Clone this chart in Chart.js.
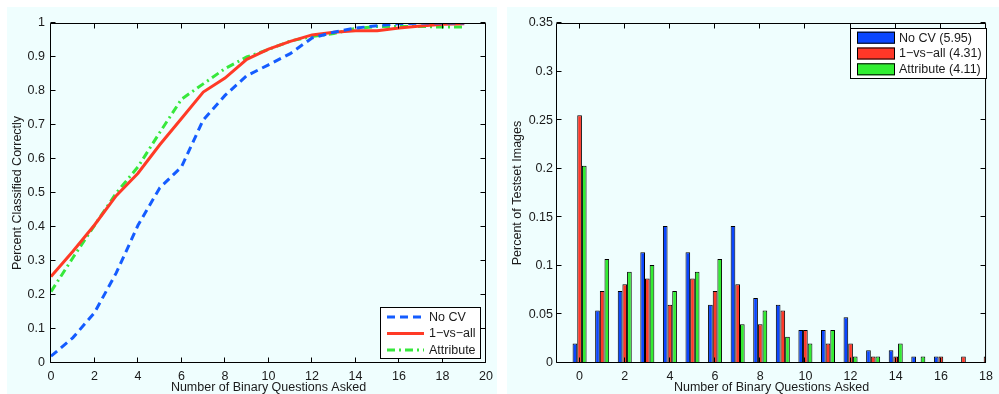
<!DOCTYPE html>
<html>
<head>
<meta charset="utf-8">
<script src="https://cdn.jsdelivr.net/npm/chart.js@4.4.1/dist/chart.umd.min.js"></script>
<style>
  html, body { margin: 0; padding: 0; background: #ffffff; }
  #wrap { position: relative; width: 999px; height: 394px; overflow: hidden; }
  canvas { position: absolute; top: 0; }
  #c1 { left: 0; }
  #c2 { left: 500px; }
</style>
</head>
<body>
<div id="wrap">
  <canvas id="c1" width="500" height="394"></canvas>
  <canvas id="c2" width="499" height="394"></canvas>
</div>
<script>
// ---------- data ----------
const questions = [0,1,2,3,4,5,6,7,8,9,10,11,12,13,14,15,16,17,18,19];
const noCV      = [0.02,0.074,0.148,0.265,0.405,0.515,0.577,0.715,0.787,0.845,0.877,0.91,0.956,0.973,0.985,0.992,0.998,1.0,1.0,1.0];
const oneVsAll  = [0.254,0.328,0.406,0.492,0.558,0.642,0.719,0.797,0.838,0.893,0.923,0.946,0.965,0.973,0.977,0.977,0.985,0.991,0.996,0.998];
const attribute = [0.21,0.309,0.405,0.5,0.577,0.678,0.776,0.821,0.866,0.9,0.922,0.947,0.96,0.969,0.984,0.99,0.99,0.99,0.988,0.988];

const bins          = [0,1,2,3,4,5,6,7,8,9,10,11,12,13,14,15,16,17,18];
const noCVBars      = [0.02,0.054,0.074,0.114,0.141,0.114,0.06,0.141,0.067,0.06,0.034,0.034,0.047,0.013,0.013,0.0067,0.0067,0,0];
const oneVsAllBars  = [0.255,0.074,0.081,0.087,0.06,0.087,0.074,0.081,0.04,0.054,0.034,0.02,0.02,0.0067,0.0067,0,0.0067,0.0067,0.0067];
const attributeBars = [0.203,0.107,0.094,0.101,0.074,0.094,0.107,0.04,0.054,0.027,0.02,0.034,0.0067,0.0067,0.02,0.0067,0,0,0];

const lineLabels = ['No CV', '1\u2212vs\u2212all', 'Attribute'];
const barLabels  = ['No CV (5.95)', '1\u2212vs\u2212all (4.31)', 'Attribute (4.11)'];

const leftXTicks  = [0,2,4,6,8,10,12,14,16,18,20];
const leftYTicks  = [0,0.1,0.2,0.3,0.4,0.5,0.6,0.7,0.8,0.9,1];
const rightXTicks = [0,2,4,6,8,10,12,14,16,18];
const rightYTicks = [0,0.05,0.1,0.15,0.2,0.25,0.3,0.35];

const xTitle = 'Number of Binary Questions Asked';
const leftYTitle = 'Percent Classified Correctly';
const rightYTitle = 'Percent of Testset Images';

// ---------- styles ----------
const FONT = '"Liberation Sans", Arial, Helvetica, sans-serif';
const FS = 12.5;
const TXT = '#1a1a1a';
const BG = '#effefe';
const C_BLUE = 'rgb(20,92,255)', C_RED = 'rgb(255,58,38)', C_GREEN = 'rgb(55,232,60)';
const B_BLUE = 'rgb(10,70,255)', B_RED = 'rgb(255,55,40)', B_GREEN = 'rgb(50,238,50)';
const DASH_BLUE = [8,5], DASH_GREEN = [8,4,2,4];

const fmt = v => String(Number(v.toFixed(3)));

const frame = {
  id: 'frame',
  beforeDraw(chart, args, o) {
    const ctx = chart.ctx;
    ctx.save();
    ctx.fillStyle = BG;
    ctx.fillRect(o.bg[0], o.bg[1], o.bg[2], o.bg[3]);
    ctx.restore();
  },
  afterDatasetsDraw(chart, args, o) {
    const {ctx, chartArea: a, scales: {x, y}} = chart;
    ctx.save();
    ctx.strokeStyle = '#000';
    ctx.lineWidth = 1;
    ctx.setLineDash([]);
    const L = a.left - 0.5, R = a.right - 0.5, T = a.top + 0.5, B = a.bottom - 0.5;
    ctx.beginPath();
    ctx.moveTo(L, T); ctx.lineTo(R, T); ctx.lineTo(R, B); ctx.lineTo(L, B); ctx.closePath();
    const tl = 5;
    x.ticks.forEach(t => {
      const p = Math.round(x.getPixelForValue(t.value)) - 0.5;
      ctx.moveTo(p, B); ctx.lineTo(p, B - tl);
      ctx.moveTo(p, T); ctx.lineTo(p, T + tl);
    });
    y.ticks.forEach(t => {
      const p = Math.round(y.getPixelForValue(t.value)) - 0.5;
      ctx.moveTo(L, p); ctx.lineTo(L + tl, p);
      ctx.moveTo(R, p); ctx.lineTo(R - tl, p);
    });
    ctx.stroke();
    ctx.restore();
  },
  afterDraw(chart, args, o) {
    const ctx = chart.ctx;
    const lg = o.legend;
    ctx.save();
    ctx.fillStyle = '#ffffff';
    ctx.fillRect(lg.box[0], lg.box[1], lg.box[2], lg.box[3]);
    ctx.strokeStyle = '#000'; ctx.lineWidth = 1; ctx.setLineDash([]);
    ctx.strokeRect(lg.box[0] + 0.5, lg.box[1] + 0.5, lg.box[2] - 1, lg.box[3] - 1);
    ctx.font = FS + 'px ' + FONT;
    ctx.textBaseline = 'middle';
    ctx.textAlign = 'left';
    chart.data.datasets.forEach((ds, i) => {
      const yc = lg.rows[i];
      if (lg.kind === 'line') {
        ctx.save();
        ctx.strokeStyle = ds.borderColor;
        ctx.lineWidth = ds.borderWidth;
        ctx.setLineDash(ds.borderDash || []);
        ctx.beginPath();
        ctx.moveTo(lg.sample[0], yc); ctx.lineTo(lg.sample[1], yc);
        ctx.stroke();
        ctx.restore();
      } else {
        ctx.fillStyle = ds.backgroundColor;
        ctx.fillRect(lg.sample[0], yc - 6, lg.sample[1] - lg.sample[0], 12);
        ctx.strokeStyle = '#000';
        ctx.strokeRect(lg.sample[0] + 0.5, yc - 5.5, lg.sample[1] - lg.sample[0] - 1, 11);
      }
      ctx.fillStyle = TXT;
      ctx.fillText(ds.label, lg.textX, yc + 0.5);
    });
    ctx.restore();
  }
};

function axisCommon(min, max, tickVals, title, padLabel, isX) {
  return {
    type: 'linear',
    min, max,
    offset: false,
    grid: { display: false, drawTicks: false },
    border: { display: false },
    afterBuildTicks: s => { s.ticks = tickVals.map(v => ({ value: v })); },
    ticks: {
      autoSkip: false, maxRotation: 0, padding: padLabel,
      color: TXT, font: { family: FONT, size: FS },
      callback: v => fmt(v)
    },
    title: {
      display: true, text: title, color: TXT,
      font: { family: FONT, size: FS, lineHeight: 1 },
      padding: isX ? { top: 0, bottom: 0 } : { top: 11, bottom: 0 }
    }
  };
}

Chart.defaults.font.family = FONT;

// ---------- left: line chart ----------
const lineSets = [
  { label: lineLabels[0], vals: noCV, color: C_BLUE, dash: DASH_BLUE },
  { label: lineLabels[1], vals: oneVsAll, color: C_RED, dash: [] },
  { label: lineLabels[2], vals: attribute, color: C_GREEN, dash: DASH_GREEN }
];
new Chart(document.getElementById('c1'), {
  type: 'line',
  data: {
    datasets: lineSets.map(s => ({
      label: s.label,
      data: questions.map((q, i) => ({ x: q, y: s.vals[i] })),
      borderColor: s.color,
      backgroundColor: s.color,
      borderWidth: 3,
      borderDash: s.dash,
      pointRadius: 0,
      tension: 0,
      fill: false
    }))
  },
  options: {
    responsive: false, animation: false, devicePixelRatio: 1,
    layout: { padding: { left: 0, right: 14, top: 23, bottom: 0 } },
    plugins: {
      legend: { display: false }, tooltip: { enabled: false },
      frame: {
        bg: [7, 7, 490, 387],
        legend: { kind: 'line', box: [380, 307, 101, 52], rows: [317, 333.5, 350], sample: [387, 424], textX: 429 }
      }
    },
    scales: {
      x: Object.assign(axisCommon(0, 20, leftXTicks, xTitle, 6, true), { afterFit: s => { s.height = 31; } }),
      y: Object.assign(axisCommon(0, 1, leftYTicks, leftYTitle, 6, false), { afterFit: s => { s.width = 51; } })
    }
  },
  plugins: [frame]
});

// ---------- right: bar chart ----------
const barSets = [
  { label: barLabels[0], vals: noCVBars, color: B_BLUE },
  { label: barLabels[1], vals: oneVsAllBars, color: B_RED },
  { label: barLabels[2], vals: attributeBars, color: B_GREEN }
];
new Chart(document.getElementById('c2'), {
  type: 'bar',
  data: {
    datasets: barSets.map(s => ({
      label: s.label,
      data: bins.map((b, i) => ({ x: b, y: s.vals[i] })),
      backgroundColor: s.color,
      borderColor: '#000',
      borderWidth: 1,
      borderSkipped: false,
      categoryPercentage: 0.62,
      barPercentage: 1.0
    }))
  },
  options: {
    responsive: false, animation: false, devicePixelRatio: 1,
    layout: { padding: { left: 0, right: 7, top: 23, bottom: 0 } },
    plugins: {
      legend: { display: false }, tooltip: { enabled: false },
      frame: {
        bg: [7, 7, 492, 387],
        legend: { kind: 'bar', box: [350, 28, 137, 51], rows: [37.7, 53.5, 69.3], sample: [357, 395], textX: 399 }
      }
    },
    scales: {
      x: Object.assign(axisCommon(-1, 18, rightXTicks, xTitle, 6, true), { afterFit: s => { s.height = 31; } }),
      y: Object.assign(axisCommon(0, 0.35, rightYTicks, rightYTitle, 4, false), { afterFit: s => { s.width = 57; } })
    }
  },
  plugins: [frame]
});
</script>
</body>
</html>
